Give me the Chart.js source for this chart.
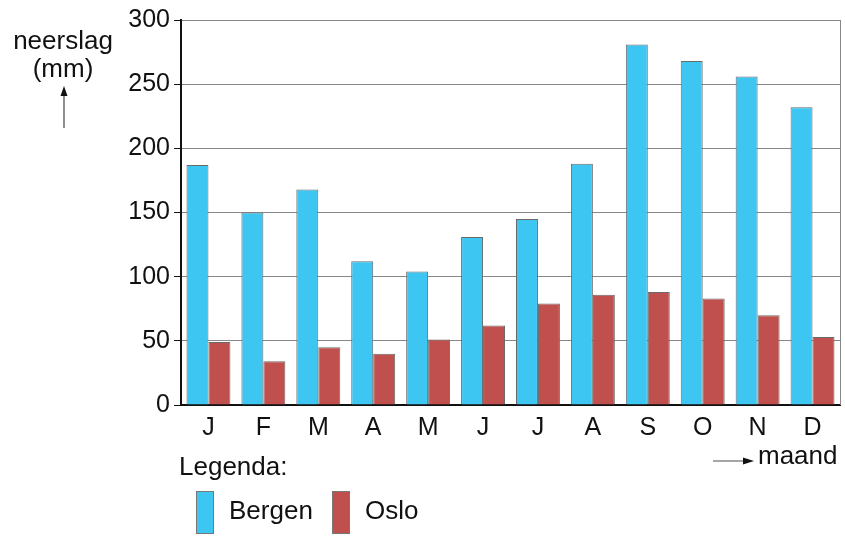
<!DOCTYPE html>
<html>
<head>
<meta charset="utf-8">
<script src="https://cdn.jsdelivr.net/npm/chart.js@4.4.0/dist/chart.umd.min.js"></script>
<style>
  html, body { margin: 0; padding: 0; background: #fff; }
  #wrap { width: 845px; height: 536px; }
</style>
</head>
<body>
<div id="wrap"><canvas id="chart" width="845" height="536"></canvas></div>
<script>
// maanden en neerslag (mm)
const maanden = ['J', 'F', 'M', 'A', 'M', 'J', 'J', 'A', 'S', 'O', 'N', 'D'];
const bergen = [187, 150, 168, 112, 104, 131, 145, 188, 281, 268, 256, 232];
const oslo = [49, 34, 45, 40, 51, 62, 79, 86, 88, 83, 70, 53];
const yTicks = [0, 50, 100, 150, 200, 250, 300];

const FONT = '"Liberation Sans", Arial, sans-serif';

const extras = {
    id: 'extras',
    afterDraw(chart) {
        const c = chart.ctx;
        const a = chart.chartArea;
        c.save();
        // rechterrand
        c.strokeStyle = '#888';
        c.lineWidth = 1;
        c.beginPath();
        c.moveTo(a.right + 0.5, a.top);
        c.lineTo(a.right + 0.5, a.bottom);
        c.stroke();

        c.fillStyle = '#111';
        c.font = '26px ' + FONT;
        c.textAlign = 'center';
        c.textBaseline = 'middle';
        c.fillText('neerslag', 63, 42);
        c.fillText('(mm)', 63, 70);
        // pijl omhoog
        c.strokeStyle = '#444';
        c.lineWidth = 1.2;
        c.beginPath();
        c.moveTo(64, 128);
        c.lineTo(64, 94);
        c.stroke();
        c.beginPath();
        c.moveTo(64, 86); c.lineTo(60.5, 96); c.lineTo(67.5, 96); c.closePath();
        c.fill();

        // maand pijl
        c.strokeStyle = '#888';
        c.lineWidth = 1.5;
        c.beginPath();
        c.moveTo(713, 461);
        c.lineTo(744, 461);
        c.stroke();
        c.beginPath();
        c.moveTo(754, 461); c.lineTo(743, 457.5); c.lineTo(743, 464.5); c.closePath();
        c.fill();
        c.textAlign = 'left';
        c.fillText('maand', 758, 457);

        // legenda
        c.fillText('Legenda:', 179, 468);
        const items = chart.data.datasets;
        const xs = [196, 332];
        items.forEach((ds, i) => {
            c.fillStyle = ds.backgroundColor;
            c.fillRect(xs[i], 491, 17, 42);
            c.strokeStyle = '#777';
            c.lineWidth = 1;
            c.strokeRect(xs[i] + 0.5, 491.5, 17, 42);
            c.fillStyle = '#111';
            c.fillText(ds.label, xs[i] + 33, 512);
        });
        c.restore();
    }
};

new Chart(document.getElementById('chart').getContext('2d'), {
    type: 'bar',
    data: {
        labels: maanden,
        datasets: [{
            label: 'Bergen',
            data: bergen,
            backgroundColor: '#3EC6F3',
            borderColor: '#6a6a6a',
            borderWidth: 1
        }, {
            label: 'Oslo',
            data: oslo,
            backgroundColor: '#C0504D',
            borderColor: '#6a6a6a',
            borderWidth: 1
        }]
    },
    options: {
        responsive: false,
        animation: false,
        layout: { padding: { left: 0, right: 5, top: 20, bottom: 0 } },
        categoryPercentage: 0.8,
        barPercentage: 1.0,
        plugins: {
            legend: { display: false },
            tooltip: { enabled: false }
        },
        scales: {
            x: {
                grid: { drawOnChartArea: false, drawTicks: false },
                border: { color: '#111', width: 2 },
                ticks: { color: '#111', font: { size: 25, family: FONT }, padding: 8 },
                afterFit(axis) { axis.height = 131; }
            },
            y: {
                min: 0,
                max: 300,
                afterBuildTicks(axis) { axis.ticks = yTicks.map(v => ({ value: v })); },
                grid: { color: '#888', lineWidth: 1, tickLength: 7, tickColor: '#111' },
                border: { color: '#111', width: 2 },
                ticks: { color: '#111', font: { size: 25, family: FONT }, padding: 4 },
                afterFit(axis) { axis.width = 181; }
            }
        }
    },
    plugins: [extras]
});
</script>
</body>
</html>
